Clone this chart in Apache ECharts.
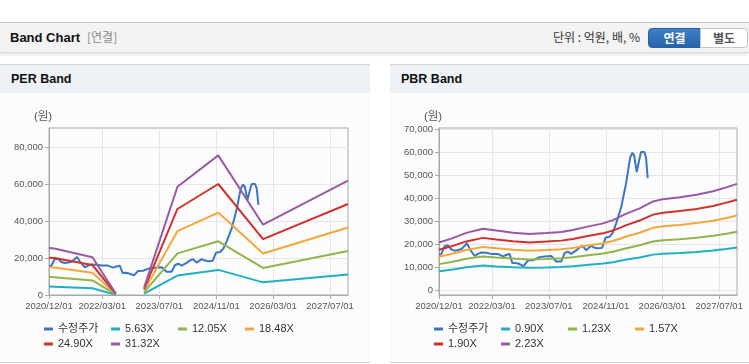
<!DOCTYPE html>
<html>
<head>
<meta charset="utf-8">
<script src="https://cdn.jsdelivr.net/npm/echarts@6/dist/echarts.min.js"></script>
<style>
  html, body { margin:0; padding:0; width:749px; height:364px; overflow:hidden; background:#fff;
    font-family:'Liberation Sans','Noto Sans CJK KR',sans-serif; }
  .abs { position:absolute; }
  #hdr { left:0; top:22px; width:749px; height:29px; background:#f3f3f3; border-top:1px solid #c4c4c4;
    border-bottom:1px solid #dadada; box-shadow:0 2px 3px rgba(0,0,0,0.10); }
  .t { position:absolute; white-space:nowrap; line-height:1; }
  .panel { position:absolute; top:64px; height:297px; background:#fcfcfc; border-top:1px solid #d6d6d6; border-bottom:1px solid #d2d2d2; }
  .phead { position:absolute; left:0; top:0; right:0; height:28px; background:#eef2f7; }
  .btn { position:absolute; top:28px; height:18px; font-size:12px; font-weight:bold; text-align:center; line-height:18px; font-family:'Noto Sans CJK KR',sans-serif; }
  #c { position:absolute; left:0; top:0; width:749px; height:364px; }
</style>
</head>
<body>
<div id="hdr" class="abs"></div>
<div class="t" style="left:10px;top:31px;font-size:13px;font-weight:bold;color:#111;">Band Chart</div>
<div class="t" style="left:87px;top:31px;font-size:12px;color:#8a8a8a;font-family:'Noto Sans CJK KR',sans-serif;">[연결]</div>
<div class="t" style="left:553px;top:31px;font-size:12px;color:#333;font-family:'Noto Sans CJK KR',sans-serif;">단위 : 억원, 배, %</div>
<div class="btn" style="left:648px;width:51px;color:#fff;background:linear-gradient(#3f80c8,#2763a8);border:1px solid #285f9f;border-radius:4px 0 0 4px;">연결</div>
<div class="btn" style="left:700px;width:46px;color:#555;background:#fff;border:1px solid #c6c6c6;border-radius:0 4px 4px 0;">별도</div>

<div class="panel" style="left:0;width:370px;"><div class="phead"></div></div>
<div class="panel" style="left:390px;width:359px;"><div class="phead"></div></div>
<div class="t" style="left:11px;top:73px;font-size:12.5px;font-weight:bold;color:#111;">PER Band</div>
<div class="t" style="left:401px;top:73px;font-size:12.5px;font-weight:bold;color:#111;">PBR Band</div>

<div id="c"></div>
<script>
// ---------- data ----------
const xTickLabels = ['2020/12/01', '2022/03/01', '2023/07/01', '2024/11/01', '2026/03/01', '2027/07/01'];
const xStart = '2020/12/01', xEnd = '2027/12/01';
const perYTicks = [0, 20000, 40000, 60000, 80000];
const pbrYTicks = [0, 10000, 20000, 30000, 40000, 50000, 60000, 70000];

const priceName = '수정주가';
const priceDates = [
  '2020/12/02','2020/12/20','2021/01/19','2021/02/16','2021/03/17','2021/04/14','2021/05/12','2021/06/13',
  '2021/07/29','2021/08/27','2021/10/03','2021/10/31','2021/11/29','2022/01/11','2022/02/23','2022/04/20',
  '2022/06/02','2022/07/01','2022/07/29','2022/08/22','2022/09/19','2022/10/23','2022/11/26','2023/01/02',
  '2023/02/14','2023/04/12','2023/05/25','2023/07/22','2023/09/02','2023/10/15','2023/11/13','2023/12/11',
  '2024/01/09','2024/02/21','2024/03/20','2024/04/17','2024/05/16','2024/06/28','2024/07/27','2024/08/24',
  '2024/09/30','2024/10/29','2024/12/02','2024/12/30','2025/01/28','2025/03/12','2025/04/24','2025/05/28',
  '2025/06/17','2025/07/02','2025/07/24','2025/08/16','2025/08/30','2025/09/28','2025/10/12','2025/10/26'
];
const priceValues = [
  15500, 15800, 19300, 19600, 17800, 17300, 17600, 18000,
  20500, 17600, 15000, 15900, 16500, 16400, 15900, 15900,
  14800, 15400, 15900, 11900, 12000, 11500, 10600, 13000,
  13100, 14500, 14800, 15000, 12600, 12600, 16200, 16900,
  15900, 17400, 18700, 19300, 17500, 19400, 18600, 18300,
  18500, 22900, 23300, 25000, 29000, 36000, 46500, 57500,
  59700, 58500, 51300, 57000, 60000, 60000, 57500, 48700
];

const perNames = ['5.63X', '12.05X', '18.48X', '24.90X', '31.32X'];
const perBandDates = ['2020/12/01','2021/01/15','2021/12/07','2022/06/25','2022/10/01','2023/02/22','2023/12/04','2024/11/17','2025/12/05','2027/12/01'];
const per563  = [4570, 4510, 3670, 140, null, 720, 10520, 13570, 6830, 11130];
const per1205 = [9770, 9660, 7850, 310, null, 1540, 22510, 29050, 14620, 23810];
const per1848 = [14990, 14810, 12040, 470, null, 2360, 34520, 44550, 22420, 36520];
const per2490 = [20190, 19950, 16220, 640, null, 3180, 46510, 60020, 30210, 49210];
const per3132 = [25400, 25100, 20400, 800, null, 4000, 58500, 75500, 38000, 61900];

const pbrNames = ['0.90X', '1.23X', '1.57X', '1.90X', '2.23X'];
const pbrBandDates = ['2020/12/01','2021/03/17','2021/07/23','2021/12/13','2022/04/07','2022/08/28','2023/01/18','2023/06/10',
  '2023/10/16','2024/01/24','2024/05/18','2024/10/08','2025/01/01','2025/04/26','2025/08/18','2025/12/11',
  '2026/03/06','2026/07/28','2026/12/18','2027/05/10','2027/09/01','2027/12/01'];
const pbr090 = [8390, 9080, 10090, 10820, 10490, 10130, 9890, 10050, 10250, 10570, 11140, 11740, 12310, 13440, 14370, 15580, 15980, 16310, 16750, 17350, 18040, 18650];
const pbr123 = [11470, 12410, 13790, 14780, 14340, 13850, 13510, 13730, 14010, 14450, 15220, 16050, 16820, 18370, 19640, 21290, 21840, 22280, 22890, 23720, 24660, 25480];
const pbr157 = [14640, 15840, 17600, 18870, 18300, 17670, 17250, 17530, 17880, 18440, 19430, 20490, 21470, 23440, 25060, 27170, 27880, 28440, 29220, 30270, 31470, 32520];
const pbr190 = [17720, 19170, 21300, 22830, 22150, 21390, 20870, 21210, 21640, 22320, 23520, 24790, 25990, 28370, 30330, 32890, 33740, 34420, 35360, 36640, 38080, 39360];
const pbr223 = [20800, 22500, 25000, 26800, 26000, 25100, 24500, 24900, 25400, 26200, 27600, 29100, 30500, 33300, 35600, 38600, 39600, 40400, 41500, 43000, 44700, 46200];

// ---------- styles ----------
const colors = ['#3a76c4', '#1fb1c2', '#8fb54b', '#f2a73b', '#d1302c', '#9a58a5'];
const FONT = "'Liberation Sans','Noto Sans CJK KR',sans-serif";
const AX = '#a9a9a9', GRID = '#e6e6e6';

function ts(s) { const p = s.split('/'); return new Date(+p[0], +p[1] - 1, +p[2]).getTime(); }
function zip(dates, vals) { return dates.map((d, i) => [ts(d), vals[i]]); }
function pad(n) { return (n < 10 ? '0' : '') + n; }
function fmtDate(v) { const d = new Date(Math.round(v)); return d.getFullYear() + '/' + pad(d.getMonth() + 1) + '/' + pad(d.getDate()); }
function fmtNum(v) { return String(v).replace(/\B(?=(\d{3})+(?!\d))/g, ','); }

const xTickValues = xTickLabels.map(ts);

function xAxis(i) {
  return {
    type: 'value', gridIndex: i, min: ts(xStart), max: ts(xEnd),
    axisLine: { show: true, onZero: false, lineStyle: { color: AX } },
    axisTick: { show: true, length: 4, customValues: xTickValues, lineStyle: { color: AX } },
    axisLabel: { customValues: xTickValues, formatter: fmtDate, color: '#555', fontSize: 9.5, margin: 7, fontFamily: FONT },
    splitLine: { show: true, lineStyle: { color: GRID } }
  };
}
function yAxis(i, min, max, ticks) {
  return {
    type: 'value', gridIndex: i, min: min, max: max,
    name: '(원)', nameLocation: 'end', nameGap: 5,
    nameTextStyle: { color: '#555', fontSize: 11.5, fontFamily: FONT, align: 'center', padding: [0, 12, 0, 0] },
    axisLine: { show: true, lineStyle: { color: AX } },
    axisTick: { show: true, length: 4, customValues: ticks, lineStyle: { color: AX } },
    axisLabel: { customValues: ticks, formatter: fmtNum, color: '#555', fontSize: 9.5, margin: 6, fontFamily: FONT },
    splitLine: { show: true, lineStyle: { color: GRID } }
  };
}
function line(name, data, color, gi) {
  return {
    type: 'line', name: name, data: data, xAxisIndex: gi, yAxisIndex: gi,
    symbol: 'none', showSymbol: false, connectNulls: false, color: color,
    lineStyle: { width: 2, color: color }, itemStyle: { color: color }
  };
}
function legend(left, names) {
  return {
    left: left, top: 323, width: 275, padding: 0, orient: 'horizontal',
    itemWidth: 9, itemHeight: 3, itemGap: 3, icon: 'rect', selectedMode: false,
    textStyle: { fontSize: 11, color: '#333', width: 50, lineHeight: 12, fontFamily: FONT },
    data: names
  };
}

const perBands = [per563, per1205, per1848, per2490, per3132];
const pbrBands = [pbr090, pbr123, pbr157, pbr190, pbr223];

const series = [line(priceName, zip(priceDates, priceValues), colors[0], 0)];
perBands.forEach((b, k) => series.push(line(perNames[k], zip(perBandDates, b), colors[k + 1], 0)));
series.push(line(priceName, zip(priceDates, priceValues), colors[0], 1));
pbrBands.forEach((b, k) => series.push(line(pbrNames[k], zip(pbrBandDates, b), colors[k + 1], 1)));

const chart = echarts.init(document.getElementById('c'), null, { renderer: 'canvas', width: 749, height: 364 });
chart.setOption({
  animation: false,
  backgroundColor: 'transparent',
  grid: [
    { left: 49, top: 128, width: 299, height: 167, show: true, borderColor: AX, borderWidth: 1, backgroundColor: 'transparent' },
    { left: 439, top: 128, width: 298, height: 167, show: true, borderColor: AX, borderWidth: 1, backgroundColor: 'transparent' }
  ],
  xAxis: [xAxis(0), xAxis(1)],
  yAxis: [yAxis(0, 0, 90300, perYTicks), yAxis(1, -1900, 70400, pbrYTicks)],
  legend: [legend(44, [priceName].concat(perNames)), legend(434, [priceName].concat(pbrNames))],
  series: series
});
</script>
</body>
</html>
